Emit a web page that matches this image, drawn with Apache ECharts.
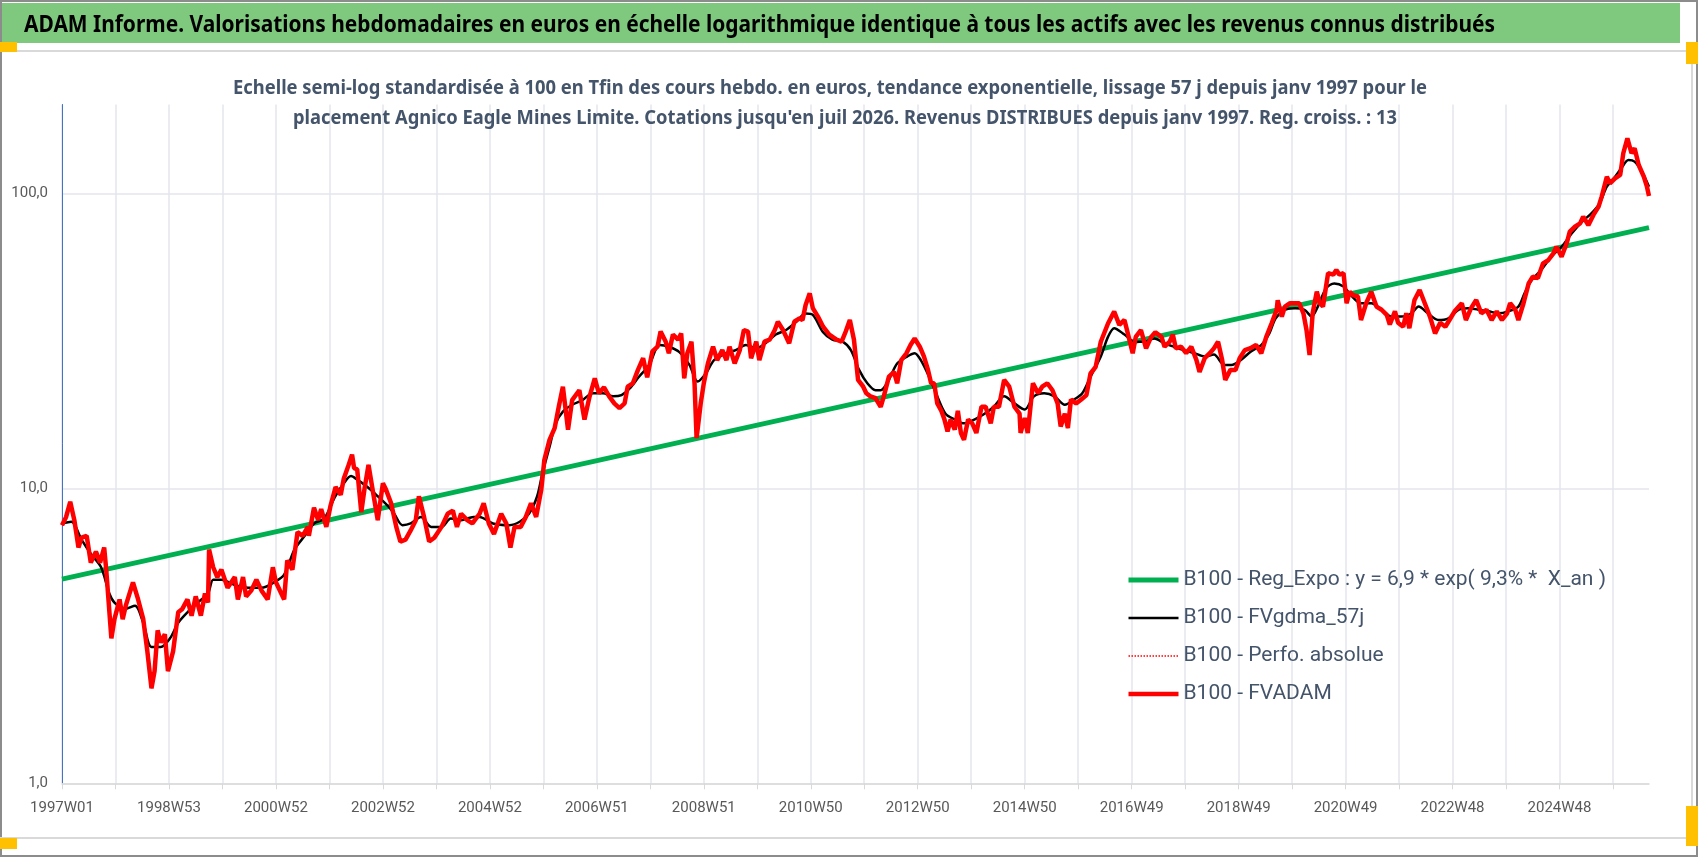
<!DOCTYPE html>
<html>
<head>
<meta charset="utf-8">
<script src="https://cdn.jsdelivr.net/npm/echarts@6/dist/echarts.min.js"></script>
<style>
html, body { margin: 0; padding: 0; background: #fff; }
#chart { width: 1698px; height: 857px; }
</style>
</head>
<body>
<div id="chart"></div>
<script>
// semaines ISO depuis 1997W01 (1544 semaines, jusqu'a juil 2026)
var weeks = [];
(function () {
	var start = Date.UTC(1996, 11, 30);
	for (var i = 0; i < 1544; i++) {
		var thu = new Date(start + (i * 7 + 3) * 86400000);
		var y = thu.getUTCFullYear();
		var doy = Math.floor((thu - Date.UTC(y, 0, 1)) / 86400000);
		var w = Math.floor(doy / 7) + 1;
		weeks.push(y + 'W' + (w < 10 ? '0' + w : w));
	}
})();

// B100 - Reg_Expo (droite en semi-log, debut et fin)
var regData = [[0, 4.92], [1543, 76.5]];

// B100 - FVgdma_57j (lissage), [index semaine, valeur]
var gdmaData = [
	[0,7.6],[9,7.7],[19,6.7],[28,6.0],[38,5.4],[46,4.4],[51,4.1],[61,3.9],[71,4.0],[79,3.5],
	[87,2.9],[96,2.9],[105,3.1],[113,3.5],[122,3.8],[132,4.1],[142,4.4],[147,4.9],[155,4.9],[168,4.7],
	[181,4.6],[194,4.6],[206,4.8],[216,5.1],[226,6.2],[236,6.9],[245,7.6],[255,7.9],[265,9.3],[274,10.4],
	[281,11.0],[287,10.7],[297,10.1],[307,9.4],[317,8.7],[323,8.2],[331,7.5],[339,7.6],[349,8.0],[359,7.4],
	[369,7.4],[378,7.9],[388,7.8],[400,8.0],[406,8.0],[419,7.6],[435,7.5],[445,7.7],[454,8.2],[462,9.4],
	[467,11.2],[474,13.8],[480,16.6],[487,18.2],[496,19.2],[506,19.9],[516,21.0],[526,21.0],[536,20.5],[544,20.7],
	[552,21.8],[561,23.9],[571,26.2],[581,30.6],[590,30.2],[600,29.0],[610,26.2],[618,23.0],[626,24.5],[634,27.2],
	[646,28.7],[655,29.4],[665,30.6],[675,29.8],[684,31.0],[694,33.2],[704,34.4],[714,36.7],[723,39.1],[730,38.7],
	[740,33.8],[749,31.9],[759,31.4],[767,29.4],[775,25.2],[783,22.7],[791,21.5],[796,21.5],[803,23.0],[812,26.5],
	[822,28.0],[829,28.7],[835,27.2],[843,23.9],[851,20.5],[859,17.9],[868,17.1],[877,16.6],[887,17.1],[897,17.9],
	[906,18.9],[916,20.5],[926,19.4],[936,18.5],[945,20.5],[955,21.0],[965,20.5],[975,19.2],[984,20.0],[992,21.0],
	[1000,23.9],[1010,28.0],[1017,32.6],[1023,34.9],[1033,33.2],[1043,31.4],[1052,31.4],[1062,32.2],[1072,31.0],[1081,30.2],
	[1091,29.4],[1101,28.7],[1111,28.0],[1120,28.4],[1130,26.2],[1137,26.2],[1146,27.2],[1156,29.1],[1166,30.6],[1174,33.6],
	[1180,37.7],[1189,40.3],[1199,40.8],[1208,40.3],[1215,38.2],[1221,41.3],[1229,47.6],[1237,49.5],[1246,48.3],[1253,45.2],
	[1263,42.4],[1273,42.4],[1283,40.3],[1293,38.2],[1302,38.2],[1312,39.2],[1319,41.3],[1328,39.2],[1338,37.2],[1348,37.7],
	[1358,40.3],[1367,40.8],[1377,40.3],[1387,39.8],[1397,39.2],[1406,39.8],[1416,41.3],[1422,45.8],[1429,50.8],[1438,54.9],
	[1448,61.0],[1458,65.9],[1468,73.2],[1478,80.2],[1487,85.5],[1495,92.5],[1502,105.3],[1510,113.8],[1516,121.5],[1523,129.7],
	[1529,128.0],[1536,118.4],[1543,105.3]
];

// B100 - FVADAM (et Perfo. absolue, confondue), [index semaine, valeur]
var fvadamData = [
	[0,7.5],[4,8.0],[8,9.0],[12,7.8],[16,6.3],[19,6.8],[24,6.9],[28,5.6],[33,6.1],[37,5.6],
	[41,6.3],[43,5.3],[48,3.1],[51,3.6],[56,4.2],[59,3.6],[62,4.0],[69,4.8],[74,4.2],[79,3.6],
	[83,2.8],[87,2.1],[90,2.4],[93,3.3],[96,3.0],[100,3.2],[103,2.4],[108,2.8],[113,3.8],[117,3.9],
	[122,4.2],[126,3.7],[130,4.3],[135,3.7],[139,4.4],[142,4.1],[143,6.2],[147,5.4],[151,5.0],[155,5.3],
	[161,4.6],[168,5.0],[171,4.2],[176,5.0],[179,4.3],[184,4.5],[189,4.9],[194,4.5],[200,4.2],[205,5.4],
	[208,4.8],[216,4.2],[219,5.7],[224,5.3],[229,7.1],[234,6.9],[239,7.4],[240,6.9],[245,8.6],[249,7.8],
	[252,8.5],[257,7.4],[261,8.7],[266,10.1],[271,9.5],[274,10.8],[278,11.8],[282,13.0],[284,11.7],[287,11.6],
	[291,8.3],[294,9.9],[298,12.0],[302,9.9],[307,7.8],[312,10.4],[315,9.9],[320,8.9],[325,7.4],[329,6.6],
	[334,6.7],[339,7.2],[344,7.8],[347,9.4],[352,8.0],[357,6.6],[362,6.8],[369,7.4],[375,8.2],[380,8.4],
	[384,7.4],[388,8.2],[394,7.8],[399,7.6],[406,8.2],[410,8.9],[415,7.6],[420,7.0],[427,8.2],[432,7.6],
	[436,6.3],[440,7.4],[446,7.4],[451,8.0],[456,8.9],[461,8.0],[466,9.9],[469,12.5],[474,14.6],[479,16.0],
	[483,18.9],[487,22.1],[492,15.8],[496,19.9],[503,21.5],[508,17.1],[513,20.5],[518,23.6],[522,21.0],[527,22.0],
	[532,20.5],[537,19.4],[542,18.7],[547,19.4],[550,22.1],[555,22.7],[560,25.2],[565,27.6],[569,23.8],[574,29.1],
	[579,30.2],[582,34.0],[587,31.4],[590,28.7],[594,33.2],[599,31.9],[602,33.5],[605,23.6],[608,28.7],[612,31.4],
	[615,22.7],[617,14.8],[621,19.4],[624,22.7],[628,26.5],[633,30.2],[637,27.2],[642,29.4],[646,27.2],[649,30.2],
	[654,26.5],[659,29.4],[663,34.4],[667,34.0],[670,27.6],[675,31.4],[678,27.2],[683,31.4],[688,31.9],[693,34.4],
	[696,36.7],[701,34.4],[707,31.0],[712,36.7],[717,37.7],[720,37.2],[723,41.8],[727,45.8],[730,40.8],[735,38.2],
	[740,35.3],[746,33.2],[753,31.9],[758,31.4],[762,34.0],[766,37.2],[770,31.9],[774,23.3],[779,22.1],[782,21.0],
	[786,20.5],[791,20.2],[796,18.9],[799,20.5],[804,23.9],[809,24.8],[812,22.7],[816,27.2],[821,28.7],[825,30.6],
	[829,32.2],[834,30.2],[838,28.0],[842,25.2],[845,22.7],[848,22.7],[851,19.4],[855,18.3],[858,17.1],[861,15.6],
	[864,17.1],[868,15.8],[871,18.3],[874,15.4],[877,14.6],[881,17.1],[885,16.6],[889,15.4],[894,18.9],[898,18.9],
	[903,16.6],[906,18.9],[911,18.9],[916,23.3],[921,22.1],[926,18.9],[931,17.9],[932,15.4],[936,17.3],[939,15.4],
	[944,22.7],[949,21.0],[953,22.1],[958,22.7],[963,21.5],[968,19.4],[971,16.2],[975,17.9],[978,16.0],[981,20.0],
	[986,19.4],[991,20.0],[996,20.7],[1000,24.5],[1005,25.8],[1010,31.4],[1017,36.2],[1023,39.7],[1028,35.8],[1033,37.2],
	[1036,33.8],[1041,28.7],[1044,32.6],[1049,34.4],[1054,29.8],[1059,32.6],[1063,33.8],[1069,32.6],[1072,30.2],[1077,31.4],
	[1080,33.2],[1083,29.8],[1088,30.2],[1093,28.7],[1098,30.2],[1103,27.2],[1106,24.8],[1111,27.6],[1116,28.7],[1120,29.8],
	[1124,31.4],[1128,27.2],[1131,23.3],[1136,25.2],[1141,25.2],[1145,27.6],[1150,29.4],[1155,29.8],[1161,30.6],[1166,28.7],
	[1171,32.7],[1176,36.2],[1181,40.3],[1182,43.4],[1186,38.2],[1189,41.3],[1194,42.4],[1199,42.4],[1203,42.4],[1207,39.2],
	[1210,34.4],[1213,28.3],[1216,39.2],[1220,46.4],[1223,42.4],[1226,41.3],[1231,53.6],[1236,53.0],[1239,54.9],[1242,53.0],
	[1246,53.6],[1249,42.4],[1252,46.4],[1255,45.2],[1260,44.7],[1263,37.2],[1268,42.4],[1273,46.4],[1278,41.3],[1283,40.3],
	[1288,38.7],[1291,35.9],[1296,39.8],[1299,36.4],[1304,35.3],[1307,39.2],[1310,34.9],[1315,43.5],[1320,47.0],[1325,42.4],
	[1330,38.2],[1335,33.5],[1340,36.4],[1345,35.3],[1349,37.2],[1354,39.8],[1361,42.4],[1365,37.2],[1370,40.8],[1375,43.5],
	[1380,39.2],[1385,40.3],[1390,37.2],[1395,39.8],[1400,37.2],[1405,39.2],[1408,42.4],[1413,40.3],[1416,37.2],[1421,42.4],
	[1426,49.5],[1430,52.2],[1435,51.6],[1440,57.9],[1445,59.3],[1450,62.6],[1453,65.9],[1458,61.0],[1463,67.7],[1466,74.2],
	[1471,77.1],[1476,79.1],[1479,83.4],[1484,78.0],[1489,84.5],[1494,90.1],[1497,97.4],[1502,113.8],[1505,108.1],[1510,112.4],
	[1515,115.4],[1518,136.7],[1522,153.5],[1526,136.7],[1529,142.1],[1533,124.7],[1538,113.8],[1541,105.3],[1543,98.0]
];

var seriesNames = [
	'B100 - Reg_Expo : y = 6,9 * exp( 9,3% *  X_an )',
	'B100 - FVgdma_57j',
	'B100 - Perfo. absolue',
	'B100 - FVADAM'
];

var titleText = 'ADAM Informe. Valorisations hebdomadaires en euros en échelle logarithmique identique à tous les actifs avec les revenus connus distribués';
var subLines = [
	'Echelle semi-log standardisée à 100 en Tfin des cours hebdo. en euros, tendance exponentielle, lissage 57 j depuis janv 1997 pour le',
	"placement Agnico Eagle Mines Limite. Cotations jusqu'en juil 2026. Revenus DISTRIBUES depuis janv 1997. Reg. croiss. : 13"
];

var FONT = "Roboto, 'Liberation Sans', sans-serif";
var TFONT = "'Noto Sans', 'Open Sans', sans-serif";

/**
 * texte resserre (police etroite type Calibri) : echelle horizontale
 */
var measureCtx = document.createElement('canvas').getContext('2d');
function narrowText(text, x, y, size, weight, color, width) {
	measureCtx.font = weight + ' ' + size + 'px ' + TFONT;
	var sx = width / measureCtx.measureText(text).width;
	return {
		type : 'text',
		x : x,
		y : y,
		scaleX : sx,
		z : 10,
		style : {
			text : text,
			fontFamily : TFONT,
			fontSize : size,
			fontWeight : weight,
			fill : color,
			align : 'left',
			verticalAlign : 'middle'
		}
	};
}

var chart = echarts.init(document.getElementById('chart'));

option = {
	animation : false,
	backgroundColor : '#ffffff',
	graphic : [
		{ type : 'rect', shape : { x : 1, y : 1, width : 1696, height : 855 }, style : { fill : null, stroke : '#8c8c8c', lineWidth : 2 }, z : -10 },
		{ type : 'rect', shape : { x : 2, y : 3, width : 1678, height : 40 }, style : { fill : '#7EC97E' }, z : -10 },
		{ type : 'rect', shape : { x : 0, y : 50, width : 1692, height : 2 }, style : { fill : '#D9D9D9' }, z : -10 },
		{ type : 'rect', shape : { x : 0, y : 837, width : 1692, height : 2 }, style : { fill : '#D9D9D9' }, z : -10 },
		{ type : 'rect', shape : { x : 1691, y : 52, width : 2, height : 786 }, style : { fill : '#D9D9D9' }, z : -10 },
		{ type : 'rect', shape : { x : 0, y : 42, width : 17, height : 10 }, style : { fill : '#FFC000' }, z : -9 },
		{ type : 'rect', shape : { x : 1686, y : 42, width : 12, height : 22 }, style : { fill : '#FFC000' }, z : -9 },
		{ type : 'rect', shape : { x : 0, y : 838, width : 17, height : 11 }, style : { fill : '#FFC000' }, z : -9 },
		{ type : 'rect', shape : { x : 1686, y : 806, width : 12, height : 40 }, style : { fill : '#FFC000' }, z : -9 },
		narrowText(titleText, 24, 25, 23, 'bold', '#000000', 1471),
		narrowText(subLines[0], 233, 89, 19, 'bold', '#44546A', 1194),
		narrowText(subLines[1], 293, 119, 19, 'bold', '#44546A', 1104)
	],
	legend : {
		orient : 'vertical',
		left : 1126,
		top : 568,
		padding : 0,
		itemWidth : 50,
		itemHeight : 14,
		itemGap : 14,
		itemStyle : { opacity : 0 },
		lineStyle : { width : 'inherit' },
		data : seriesNames,
		textStyle : { fontFamily : FONT, fontSize : 21, color : '#44546A', lineHeight : 24 }
	},
	grid : {
		left : 62,
		right : 49,
		top : 104.5,
		bottom : 73.7
	},
	xAxis : [ {
		type : 'category',
		data : weeks,
		boundaryGap : false,
		axisLine : { lineStyle : { color : '#D9D9D9', width : 1.5 } },
		axisTick : { show : true, interval : 51, length : 6, lineStyle : { color : '#D9D9D9' } },
		axisLabel : { interval : 103, margin : 17, color : '#595959', fontFamily : FONT, fontSize : 15 },
		splitLine : { show : true, interval : 51, lineStyle : { color : '#E3E6EC', width : 1.5 } }
	} ],
	yAxis : [ {
		type : 'log',
		logBase : 10,
		min : 1,
		max : 200,
		axisLine : { show : true, lineStyle : { color : '#4472C4', width : 1 } },
		axisTick : { show : false },
		axisLabel : {
			margin : 14,
			color : '#595959',
			fontFamily : FONT,
			fontSize : 15,
			showMaxLabel : false,
			formatter : function (v) { return v.toFixed(1).replace('.', ','); }
		},
		splitLine : { show : true, showMaxLine : false, lineStyle : { color : '#E3E6EC', width : 1.5 } }
	} ],
	series : [ {
		name : seriesNames[0],
		type : 'line',
		symbol : 'none',
		data : regData,
		lineStyle : { color : '#00B050', width : 5 },
		itemStyle : { color : '#00B050' }
	}, {
		name : seriesNames[1],
		type : 'line',
		symbol : 'none',
		smooth : 0.3,
		data : gdmaData,
		lineStyle : { color : '#000000', width : 2.5 },
		itemStyle : { color : '#000000' }
	}, {
		name : seriesNames[2],
		type : 'line',
		symbol : 'none',
		data : fvadamData,
		lineStyle : { color : '#FF0000', width : 1.5, type : 'dotted' },
		itemStyle : { color : '#FF0000' }
	}, {
		name : seriesNames[3],
		type : 'line',
		symbol : 'none',
		data : fvadamData,
		lineStyle : { color : '#FF0000', width : 4.5 },
		itemStyle : { color : '#FF0000' }
	} ]
};
chart.setOption(option);
</script>
</body>
</html>
